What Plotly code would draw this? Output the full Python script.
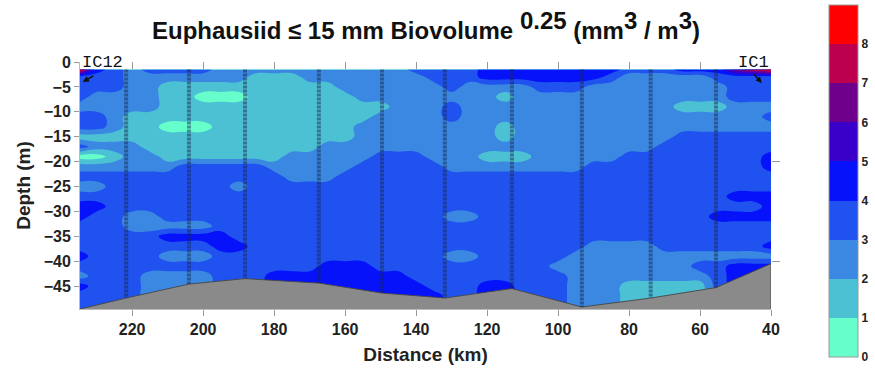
import plotly.graph_objects as go

# ---------------- data ----------------
# grid columns: distance along transect (km)
dist_km = [234.7, 230, 225, 220, 215, 210, 205, 200, 195, 190,
           185, 180, 175, 170, 165, 160, 155, 150, 145, 140,
           135, 130, 125, 120, 115, 110, 105, 100, 95, 90,
           85, 80, 75, 70, 65, 60, 55, 50, 45, 40]
# grid rows: depth (m)
depth_m = [-1.5, -3, -5, -7, -9, -11, -13, -15, -17, -19, -21, -23, -25,
           -27, -29, -31, -33, -35, -37, -39, -41, -43, -45, -47, -49.6]
# biovolume^0.25 class (value = class + 0.5), one string per depth row
band_rows = [
    "8432333322" "2222222223" "3334444444" "4333444678",
    "3332222222" "1112222222" "3334444444" "3222223333",
    "3332211111" "1111122222" "2322223332" "2222222333",
    "3222211000" "1111112222" "2222122222" "2222222333",
    "2222211111" "1111111122" "2322222222" "2222111222",
    "3321111111" "1111111222" "2322222222" "2222222223",
    "3321100011" "1111112222" "2222122222" "2222222222",
    "1111111111" "1111112222" "2222122222" "2222333333",
    "3222111111" "1111222222" "2222222222" "2223333333",
    "0012211111" "1122222333" "2221112222" "2333333334",
    "2222223333" "3222223333" "3222222223" "3333333334",
    "3333333333" "3322233333" "3333333333" "3333333333",
    "2233333332" "3333333333" "3333333333" "3333333333",
    "3333333333" "3333333333" "3333333333" "3333333444",
    "4433333333" "3333333333" "3333333333" "3333333334",
    "4332233333" "3333333333" "3223333333" "3333334444",
    "3332222233" "3333333333" "3333333333" "3333333333",
    "3333344443" "3333333333" "3333333333" "3333333333",
    "3333333344" "3333333333" "3333333332" "2223333334",
    "4333322233" "3333333333" "3223333322" "2222222222",
    "3333333333" "3333444333" "3333333222" "2222233444",
    "2333222233" "3444444443" "3333333322" "2222223444",
    "4333222233" "3444444444" "3334433322" "2111113444",
    "3333222233" "3444444444" "4334433322" "2111113444",
    "3333333333" "3444444444" "4333333322" "2111333444",
]
biovolume = [[int(c) + 0.5 for c in row] for row in band_rows]

# CTD stations IC12 ... IC1 and bottom depth
station_km = [234.7, 221.7, 204.0, 188.2, 167.4, 149.6, 131.9, 113.0, 93.3, 73.9, 55.5, 40.0]
seabed_m = [-49.6, -47.4, -44.6, -43.5, -44.4, -46.4, -47.4, -45.5, -49.2, -47.4, -45.3, -40.5]

x_ticks = [220, 200, 180, 160, 140, 120, 100, 80, 60, 40]
y_ticks = [0, -5, -10, -15, -20, -25, -30, -35, -40, -45]
cbar_ticks = [0, 1, 2, 3, 4, 5, 6, 7, 8]
band_colors = ["#66FFCC", "#4DC1D4", "#3A88E2", "#1F52EE", "#0512FA",
               "#3800C8", "#6E008C", "#BC004E", "#FF0000"]

# ---------------- figure ----------------
n = len(band_colors)
cscale = []
for i, c in enumerate(band_colors):
    cscale.append([i / n, c])
    cscale.append([(i + 1) / n, c])

fig = go.Figure()
fig.add_trace(go.Contour(
    x=dist_km, y=depth_m, z=biovolume,
    zmin=0, zmax=9, zauto=False,
    colorscale=cscale,
    contours=dict(start=0, end=9, size=1, coloring="fill"),
    line=dict(width=0, smoothing=1.3),
    colorbar=dict(
        x=(829 - 80) / 691, xanchor="left", xpad=0, ypad=0,
        y=(309 - 181) / 247, yanchor="middle",
        thickness=29, thicknessmode="pixels",
        len=352, lenmode="pixels",
        tickvals=cbar_ticks, ticks="", outlinewidth=1, outlinecolor="#999",
        tickfont=dict(family="Liberation Sans, Arial", size=12, color="#222", weight="bold"),
    ),
    hoverinfo="skip",
))

# seabed
fig.add_trace(go.Scatter(
    x=station_km + [station_km[-1], station_km[0]],
    y=seabed_m + [-55, -55],
    fill="toself", fillcolor="#8a8a8a", mode="lines",
    line=dict(color="rgba(70,70,70,0.9)", width=1), showlegend=False, hoverinfo="skip",
))

# station profiles
for km, bot in zip(station_km[1:-1], seabed_m[1:-1]):
    fig.add_trace(go.Scatter(
        x=[km, km], y=[-1.5, bot], mode="lines",
        line=dict(color="rgba(25,40,75,0.5)", width=4, dash="3px,1px"),
        showlegend=False, hoverinfo="skip",
    ))

# invisible trace for extra axes
fig.add_trace(go.Scatter(x=[100], y=[-20], xaxis="x2", yaxis="y2", mode="markers",
                         marker=dict(opacity=0), showlegend=False, hoverinfo="skip"))

tickfont = dict(family="Liberation Sans, Arial", size=16, color="#222", weight="bold")
titlefont = dict(family="Liberation Sans, Arial", size=19, color="#222", weight="bold")

fig.update_layout(
    width=875, height=371,
    margin=dict(l=80, r=104, t=62, b=62, autoexpand=False),
    paper_bgcolor="white", plot_bgcolor="white",
    showlegend=False,
    title=dict(
        text=("Euphausiid \u2264 15 mm Biovolume "
              "<sup><span style='font-size:24px'>0.25</span></sup> "
              "(mm<sup><span style='font-size:24px'>3</span></sup> / "
              "m<sup><span style='font-size:24px'>3</span></sup>)"),
        x=426 / 875, xanchor="center", xref="container",
        y=1 - 31 / 371, yanchor="middle", yref="container",
        font=dict(family="Liberation Sans, Arial", size=24, color="#111", weight="bold"),
    ),
    xaxis=dict(
        range=[234.7, 40], tickvals=x_ticks, ticks="outside", ticklen=6, tickcolor="#999",
        showline=True, linecolor="#bbb", showgrid=False, zeroline=False, automargin=False,
        tickfont=tickfont,
        title=dict(text="Distance (km)", font=titlefont, standoff=10),
    ),
    yaxis=dict(
        range=[-49.6, 0], tickvals=y_ticks, ticks="outside", ticklen=5, tickcolor="#999",
        showline=True, linecolor="#bbb", showgrid=False, zeroline=False, automargin=False,
        tickfont=tickfont,
        title=dict(text="Depth (m)", font=titlefont, standoff=8),
    ),
    xaxis2=dict(
        overlaying="x", side="top", range=[234.7, 40], tickvals=x_ticks,
        ticks="inside", ticklen=7, tickcolor="#999", showticklabels=False,
        showgrid=False, zeroline=False, showline=False, automargin=False,
    ),
    yaxis2=dict(
        overlaying="y", side="right", range=[-49.6, 0], tickvals=[-20, -40],
        ticks="outside", ticklen=8, tickcolor="#999", showticklabels=False,
        showgrid=False, zeroline=False, showline=False, automargin=False,
    ),
    annotations=[
        dict(x=station_km[0], y=0, xref="x", yref="y", text="IC12", showarrow=False,
             xanchor="left", yanchor="middle",
             font=dict(family="Liberation Mono, Courier New", size=17, color="#111")),
        dict(x=station_km[-1], y=0, xref="x", yref="y", text="IC1", showarrow=False,
             xanchor="right", yanchor="middle",
             font=dict(family="Liberation Mono, Courier New", size=17, color="#111")),
        dict(x=233.9, y=-4.0, xref="x", yref="y", text="", showarrow=True,
             ax=12, ay=-7, arrowhead=2, arrowsize=0.8, arrowwidth=1.5, arrowcolor="#111"),
        dict(x=42.6, y=-4.2, xref="x", yref="y", text="", showarrow=True,
             ax=-9, ay=-10, arrowhead=2, arrowsize=0.8, arrowwidth=1.5, arrowcolor="#111"),
    ],
)

fig.write_html(
    "out.html",
    config={"displayModeBar": False},
    post_script="document.body.style.margin='0px';document.body.style.overflow='hidden';",
)
